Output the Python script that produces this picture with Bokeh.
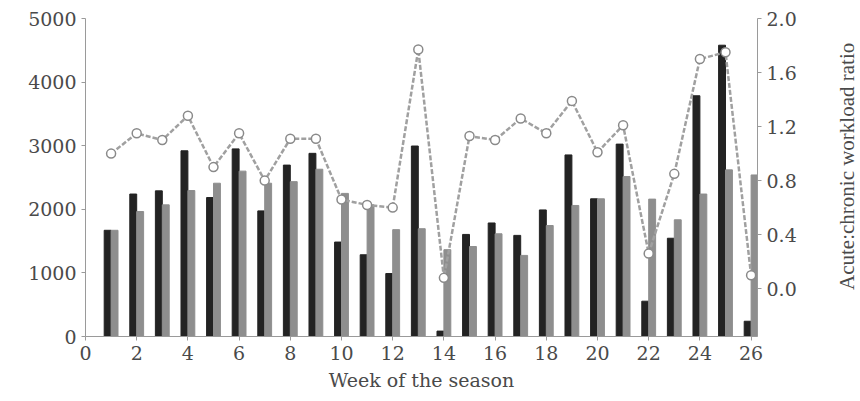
import math
from bokeh.plotting import figure
from bokeh.layouts import row
from bokeh.models import Range1d, LinearAxis, FixedTicker, NumeralTickFormatter, Label
from bokeh.embed import file_html
from bokeh.resources import INLINE

weeks = list(range(1, 27))
acute = [1670, 2240, 2290, 2920, 2185, 2950, 1975, 2695, 2880, 1485,
         1285, 990, 2995, 85, 1605, 1785, 1590, 1990, 2855, 2165,
         3025, 555, 1545, 3785, 4580, 240]
chronic = [1670, 1965, 2070, 2295, 2410, 2600, 2410, 2435, 2630, 2250,
           2070, 1680, 1695, 1365, 1415, 1615, 1275, 1745, 2060, 2165,
           2515, 2160, 1835, 2240, 2620, 2540]
ratio = [1.00, 1.15, 1.10, 1.28, 0.90, 1.15, 0.80, 1.11, 1.11, 0.66,
         0.62, 0.60, 1.77, 0.08, 1.13, 1.10, 1.26, 1.15, 1.39, 1.01,
         1.21, 0.26, 0.85, 1.70, 1.75, 0.10]
x_ticks = list(range(0, 27, 2))
left_ticks = [0, 1000, 2000, 3000, 4000, 5000]
right_ticks = [0.0, 0.4, 0.8, 1.2, 1.6, 2.0]
right_title = "Acute:chronic workload ratio"

FONT = "DejaVu Serif"
TXT = "#4a4a4a"
AX = "#9a9a9a"

p = figure(width=835, height=393, output_backend="svg", toolbar_location=None,
           x_range=Range1d(0, 26.25), y_range=Range1d(0, 5000),
           min_border_left=85, min_border_right=78, min_border_top=18, min_border_bottom=56)
p.extra_y_ranges = {"ratio": Range1d(-0.354, 2.0)}
p.outline_line_color = None
p.xgrid.visible = False
p.ygrid.visible = False

bw = 0.27
p.vbar(x=[w - 0.135 for w in weeks], top=acute, width=bw, bottom=0,
       fill_color="#232323", line_color="#232323")
p.vbar(x=[w + 0.135 for w in weeks], top=chronic, width=bw, bottom=0,
       fill_color="#8e8e8e", line_color="#8e8e8e")

p.line(weeks, ratio, y_range_name="ratio", line_color="#a0a0a0",
       line_width=2.5, line_dash="5 2")
p.scatter(weeks, ratio, y_range_name="ratio", marker="circle", size=9,
          fill_color="white", line_color="#8a8a8a", line_width=1.5)

def style(ax):
    ax.axis_line_color = AX
    ax.major_tick_line_color = AX
    ax.minor_tick_line_color = None
    ax.major_tick_in = 0
    ax.major_tick_out = 4
    ax.major_label_text_font = FONT
    ax.major_label_text_font_size = "19px"
    ax.major_label_text_color = TXT
    ax.axis_label_text_font_style = "normal"

p.xaxis.ticker = FixedTicker(ticks=x_ticks)
p.yaxis.ticker = FixedTicker(ticks=left_ticks)
style(p.xaxis[0])
style(p.yaxis[0])
p.xaxis.axis_label = "Week of the season"
p.xaxis.axis_label_text_font = FONT
p.xaxis.axis_label_text_font_size = "19px"
p.xaxis.axis_label_text_color = TXT
p.xaxis.axis_label_standoff = 6

ra = LinearAxis(y_range_name="ratio", ticker=FixedTicker(ticks=right_ticks),
                formatter=NumeralTickFormatter(format="0.0"))
style(ra)
p.add_layout(ra, "right")

# narrow side panel carrying the right-hand axis title (reads bottom to top)
side = figure(width=22, height=393, output_backend="svg", toolbar_location=None,
              x_range=Range1d(0, 1), y_range=Range1d(0, 1),
              min_border_left=0, min_border_right=0, min_border_top=0, min_border_bottom=0)
side.axis.visible = False
side.grid.visible = False
side.outline_line_color = None
side.add_layout(Label(x=0.5, y=0.535, text=right_title, angle=math.pi / 2,
                      text_align="center", text_baseline="middle",
                      text_font="Liberation Serif", text_font_size="21px",
                      text_color=TXT))

open("out.html", "w").write(file_html(row(p, side), INLINE))
